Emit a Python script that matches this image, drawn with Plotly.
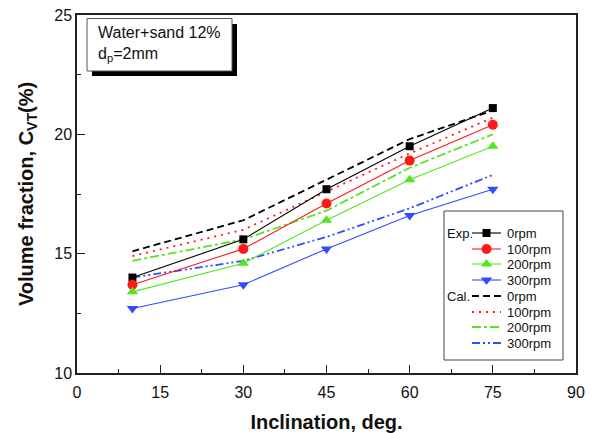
import plotly.graph_objects as go

# Inclination angles (deg)
inclination = [10, 30, 45, 60, 75]

# Experimental volume fraction C_VT (%)
exp_0rpm = [14.0, 15.6, 17.7, 19.5, 21.1]
exp_100rpm = [13.7, 15.2, 17.1, 18.9, 20.4]
exp_200rpm = [13.4, 14.6, 16.4, 18.1, 19.5]
exp_300rpm = [12.7, 13.7, 15.2, 16.6, 17.7]

# Calculated volume fraction C_VT (%)
cal_0rpm = [15.1, 16.4, 18.1, 19.8, 21.0]
cal_100rpm = [14.9, 16.0, 17.6, 19.2, 20.7]
cal_200rpm = [14.7, 15.6, 16.8, 18.6, 20.0]
cal_300rpm = [14.0, 14.7, 15.7, 16.9, 18.3]

series_labels = ["0rpm", "100rpm", "200rpm", "300rpm"]
x_ticks = [0, 15, 30, 45, 60, 75, 90]
y_ticks = [10, 15, 20, 25]

FONT = "Arial, Liberation Sans, sans-serif"
BLACK = "#000000"
RED = "#ff1a1a"
GREEN = "#55e61f"
BLUE = "#2f4dff"
SPARSE_DOT = "2px,5px"
DASHDOTDOT = "8px,3px,2px,3px,2px,3px"

colors = [BLACK, RED, GREEN, BLUE]
symbols = ["square", "circle", "triangle-up", "triangle-down"]
msizes = [8, 10, 10, 10]
dashes = ["7px,4px", SPARSE_DOT, "dashdot", DASHDOTDOT]
exp_data = [exp_0rpm, exp_100rpm, exp_200rpm, exp_300rpm]
cal_data = [cal_0rpm, cal_100rpm, cal_200rpm, cal_300rpm]

fig = go.Figure()

# calculated curves
for vals, col, dsh in zip(cal_data, colors, dashes):
    fig.add_trace(go.Scatter(
        x=inclination, y=vals, mode="lines",
        line=dict(color=col, width=1.8, dash=dsh),
        showlegend=False, hoverinfo="skip"))

# experimental points
for vals, col, sym, ms in zip(exp_data, colors, symbols, msizes):
    fig.add_trace(go.Scatter(
        x=inclination, y=vals, mode="lines+markers",
        line=dict(color=col, width=1.1),
        marker=dict(symbol=sym, size=ms, color=col, line=dict(width=0)),
        showlegend=False))

# legend panel drawn on a pixel-scaled overlay axis
L_LINE_X0, L_LINE_X1 = 472, 501
L_TEXT_X = 505
L_ROWS_EXP = [233, 249, 264, 280]
L_ROWS_CAL = [296, 312, 327, 343]

for i in range(4):
    y = L_ROWS_EXP[i]
    fig.add_trace(go.Scatter(
        x=[L_LINE_X0, L_LINE_X1], y=[y, y], xaxis="x2", yaxis="y2",
        mode="lines", line=dict(color=colors[i], width=1.1),
        showlegend=False, hoverinfo="skip"))
    fig.add_trace(go.Scatter(
        x=[(L_LINE_X0 + L_LINE_X1) / 2], y=[y], xaxis="x2", yaxis="y2",
        mode="markers", marker=dict(symbol=symbols[i], size=msizes[i], color=colors[i], line=dict(width=0)),
        showlegend=False, hoverinfo="skip"))
    y = L_ROWS_CAL[i]
    fig.add_trace(go.Scatter(
        x=[L_LINE_X0, L_LINE_X1], y=[y, y], xaxis="x2", yaxis="y2",
        mode="lines", line=dict(color=colors[i], width=1.8, dash=dashes[i]),
        showlegend=False, hoverinfo="skip"))

annotations = []
for i, lab in enumerate(series_labels):
    for rows in (L_ROWS_EXP, L_ROWS_CAL):
        annotations.append(dict(
            x=L_TEXT_X, y=rows[i], xref="x2", yref="y2", text=lab,
            showarrow=False, xanchor="left", yanchor="middle",
            font=dict(family=FONT, size=13, color="#111")))
annotations.append(dict(x=445, y=L_ROWS_EXP[0], xref="x2", yref="y2", text="Exp.",
                        showarrow=False, xanchor="left", yanchor="middle",
                        font=dict(family=FONT, size=13, color="#111")))
annotations.append(dict(x=445, y=L_ROWS_CAL[0], xref="x2", yref="y2", text="Cal.",
                        showarrow=False, xanchor="left", yanchor="middle",
                        font=dict(family=FONT, size=13, color="#111")))

# sample description box
annotations.append(dict(
    x=96, y=22, xref="x2", yref="y2",
    text="Water+sand 12%<br>d<sub>p</sub>=2mm",
    showarrow=False, xanchor="left", yanchor="top", align="left",
    font=dict(family=FONT, size=16, color="#111")))

shapes = [
    # legend frame
    dict(type="rect", xref="x2", yref="y2", x0=444, x1=563, y0=211, y1=360,
         line=dict(color="#444", width=1), fillcolor="rgba(0,0,0,0)"),
    # description box shadow and frame
    dict(type="rect", xref="x2", yref="y2", x0=92, x1=237, y0=24, y1=76,
         line=dict(color="#000", width=0), fillcolor="#000", layer="above"),
    dict(type="rect", xref="x2", yref="y2", x0=87, x1=232, y0=18.5, y1=71,
         line=dict(color="#555", width=1), fillcolor="#fff", layer="above"),
]

fig.update_layout(
    width=595, height=433,
    margin=dict(l=77, r=19, t=15, b=60, autoexpand=False),
    paper_bgcolor="white", plot_bgcolor="white",
    showlegend=False,
    font=dict(family=FONT, color="#111"),
    xaxis=dict(
        range=[0, 90], tickvals=x_ticks, ticktext=[str(v) for v in x_ticks],
        showgrid=False, zeroline=False, automargin=False,
        showline=True, linecolor="#222", linewidth=1.5, mirror=True,
        ticks="inside", ticklen=8, tickwidth=1.2, tickcolor="#222",
        minor=dict(dtick=7.5, tick0=0, ticks="inside", ticklen=4, tickwidth=1, tickcolor="#222", showgrid=False),
        tickfont=dict(family=FONT, size=16, color="#111"),
        ticklabelstandoff=4,
        title=dict(text="<b>Inclination, deg.</b>", font=dict(family=FONT, size=20, color="#111"), standoff=22),
    ),
    yaxis=dict(
        range=[10, 25], tickvals=y_ticks, ticktext=[str(v) for v in y_ticks],
        showgrid=False, zeroline=False, automargin=False,
        showline=True, linecolor="#222", linewidth=1.5, mirror=True,
        ticks="inside", ticklen=8, tickwidth=1.2, tickcolor="#222",
        minor=dict(dtick=2.5, tick0=10, ticks="inside", ticklen=4, tickwidth=1, tickcolor="#222", showgrid=False),
        tickfont=dict(family=FONT, size=16, color="#111"),
        title=dict(text="<b>Volume fraction, C<sub>VT</sub>(%)</b>", font=dict(family=FONT, size=20, color="#111"), standoff=15),
    ),
    xaxis2=dict(range=[77, 576], overlaying="x", anchor="y2", visible=False, fixedrange=True),
    yaxis2=dict(range=[373, 15], overlaying="y", anchor="x2", visible=False, fixedrange=True),
    annotations=annotations,
    shapes=shapes,
)

fig.write_html("out.html")
